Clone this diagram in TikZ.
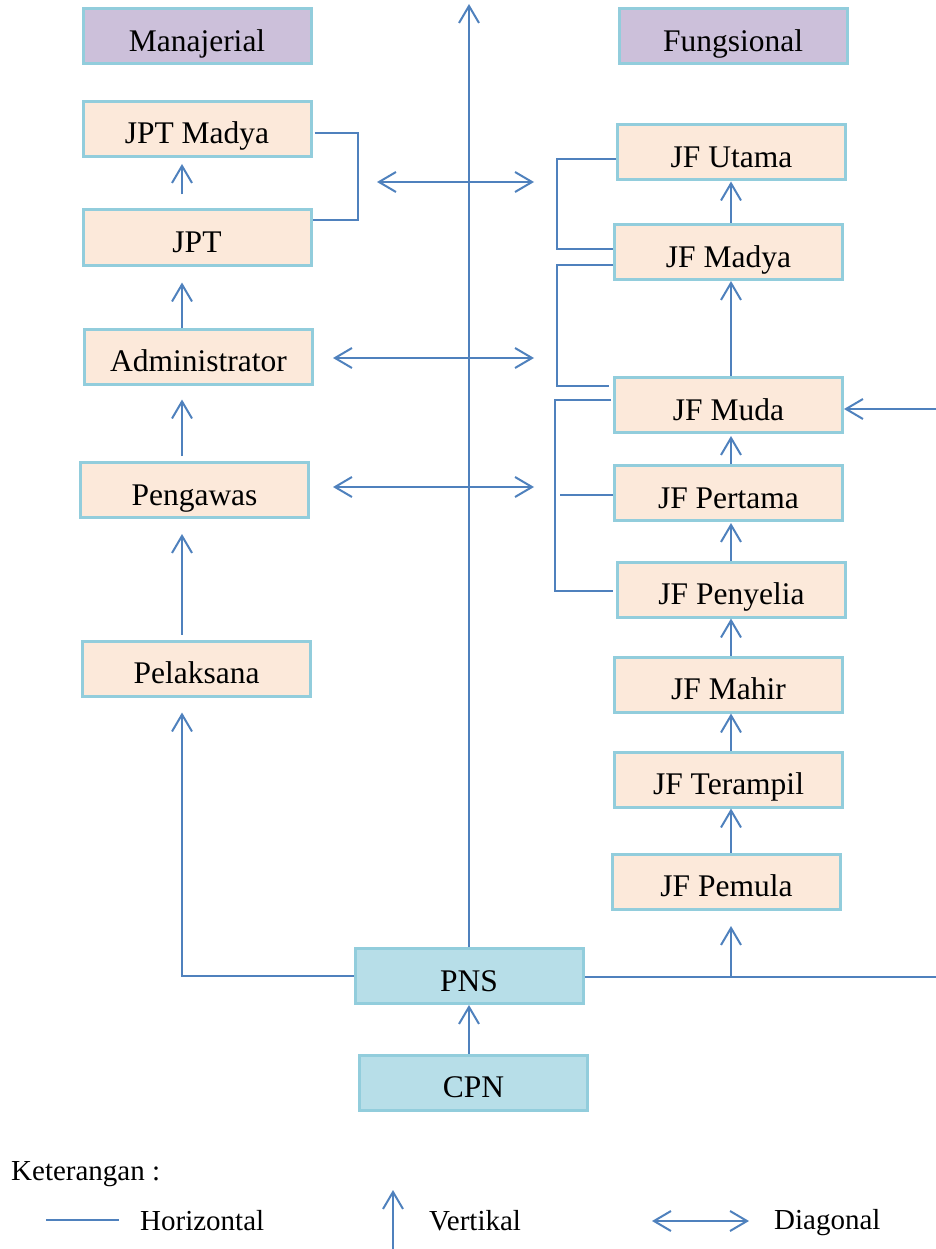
\documentclass[tikz,border=0pt]{standalone}
\usepackage{fontspec}
\setmainfont{Liberation Serif}
\usetikzlibrary{arrows.meta,calc}

\definecolor{peach}{HTML}{FCE9DA}
\definecolor{lavender}{HTML}{CCC0DA}
\definecolor{aqua}{HTML}{B7DEE8}
\definecolor{rim}{HTML}{92CDDC}
\definecolor{wire}{HTML}{4F81BD}

\tikzset{
  box/.style={draw=rim, line width=3pt, fill=peach, minimum width=228pt,
    minimum height=55pt, inner sep=0pt, text height=38pt, text depth=8pt,
    font=\fontsize{31.5}{35}\selectfont},
  headbox/.style={box, fill=lavender},
  basebox/.style={box, fill=aqua},
  wireline/.style={draw=wire, line width=2pt},
  uparrow/.style={wireline, -{Straight Barb[length=17pt,width=20pt]}},
  twoway/.style={wireline, {Straight Barb[length=17pt,width=20pt]}-{Straight Barb[length=17pt,width=20pt]}},
  legendtext/.style={anchor=west, inner sep=0pt, font=\fontsize{29}{33}\selectfont}
}

\begin{document}
\begin{tikzpicture}[x=1pt, y=-1pt]
\path[use as bounding box] (0,0) rectangle (936,1249);

% column headers
\node[headbox] (man) at (197,36.5) {Manajerial};
\node[headbox] (fun) at (733,36.5) {Fungsional};

% managerial ladder
\node[box] (jptm) at (197,129) {JPT Madya};
\node[box] (jpt)  at (197,237.5) {JPT};
\node[box] (adm)  at (198.5,356.5) {Administrator};
\node[box] (pgw)  at (194.5,490) {Pengawas};
\node[box] (pel)  at (196.5,668.5) {Pelaksana};

% functional ladder
\node[box] (jfu)  at (731.5,152.5) {JF Utama};
\node[box] (jfma) at (728.5,252) {JF Madya};
\node[box] (jfmu) at (728.5,405) {JF Muda};
\node[box] (jfpe) at (728.5,493) {JF Pertama};
\node[box] (jfpy) at (731.5,589.5) {JF Penyelia};
\node[box] (jfmh) at (728.5,684.5) {JF Mahir};
\node[box] (jfte) at (728.5,779.5) {JF Terampil};
\node[box] (jfpm) at (726.5,881.5) {JF Pemula};

% entry level
\node[basebox] (pns) at (469,976) {PNS};
\node[basebox] (cpn) at (473.5,1082.5) {CPN};

% reference coordinates
\coordinate (lx) at (182,0);
\coordinate (rx) at (731,0);
\coordinate (top) at (469,4);
\coordinate (edgeB) at (936,977);
\coordinate (edgeM) at (936,409);
\coordinate (fork) at (731,977);
\coordinate (forkTip) at (731,926);

% managerial promotions
\draw[uparrow] ($(jpt.north -| lx)+(0,-14)$) -- ($(jptm.south -| lx)+(0,6)$);
\draw[uparrow] (adm.north -| lx) -- ($(jpt.south -| lx)+(0,16)$);
\draw[uparrow] ($(pgw.north -| lx)+(0,-5)$) -- ($(adm.south -| lx)+(0,14)$);
\draw[uparrow] ($(pel.north -| lx)+(0,-5)$) -- ($(pgw.south -| lx)+(0,15)$);
\draw[uparrow] (pns.west) -- (pns.west -| lx) -- ($(pel.south -| lx)+(0,15)$);

% JPT bracket
\draw[wireline] ($(jptm.east)+(2,4)$) -- ++(43,0) |- ($(jpt.north east)+(0,12)$);

% functional promotions
\draw[uparrow] (jfma.north -| rx) -- (jfu.south -| rx);
\draw[uparrow] (jfmu.north -| rx) -- (jfma.south -| rx);
\draw[uparrow] (jfpe.north -| rx) -- ($(jfmu.south -| rx)+(0,2)$);
\draw[uparrow] (jfpy.north -| rx) -- ($(jfpe.south -| rx)+(0,1)$);
\draw[uparrow] (jfmh.north -| rx) -- (jfpy.south -| rx);
\draw[uparrow] (jfte.north -| rx) -- (jfmh.south -| rx);
\draw[uparrow] (jfpm.north -| rx) -- (jfte.south -| rx);

% functional brackets
\draw[wireline] ($(jfu.west)+(0,6.5)$) -- (557,159) -- (557,249) -- ($(jfma.west)+(0,-3)$);
\draw[wireline] ($(jfma.west)+(0,13)$) -- (557,265) -- (557,386) -- ($(jfmu.west)+(-4,-19)$);
\draw[wireline] ($(jfmu.west)+(-2,-5)$) -- (555,400) -- (555,591) -- ($(jfpy.west)+(-3,1.5)$);
\draw[wireline] (560,495) -- ($(jfpe.west)+(0,2)$);

% entry lines
\draw[uparrow] (pns.north) -- (top);
\draw[uparrow] (pns.south |- cpn.north) -- (pns.south);
\draw[wireline] (pns.east |- edgeB) -- (edgeB);
\draw[uparrow] (fork) -- (forkTip);
\draw[uparrow] (edgeM) -- (jfmu.east |- edgeM);

% crossings between the two tracks
\coordinate (d1a) at (377,182); \coordinate (d1b) at (534,182);
\coordinate (d2a) at (333,358); \coordinate (d2b) at (534,358);
\coordinate (d3a) at (333,487); \coordinate (d3b) at (534,487);
\draw[twoway] (d1a) -- (d1b);
\draw[twoway] (d2a) -- (d2b);
\draw[twoway] (d3a) -- (d3b);

% legend
\node[legendtext] (ket) at (11,1174) {Keterangan :};
\coordinate (lh1) at (46,1220); \coordinate (lh2) at (119,1220);
\draw[wireline] (lh1) -- (lh2);
\node[legendtext] (hor) at (140,1221) {Horizontal};
\coordinate (lv1) at (393,1249); \coordinate (lv2) at (393,1190);
\draw[uparrow] (lv1) -- (lv2);
\node[legendtext] (ver) at (429,1221) {Vertikal};
\coordinate (ld1) at (652,1221); \coordinate (ld2) at (749,1221);
\draw[twoway] (ld1) -- (ld2);
\node[legendtext] (dia) at (774,1223) {Diagonal};
\end{tikzpicture}
\end{document}
